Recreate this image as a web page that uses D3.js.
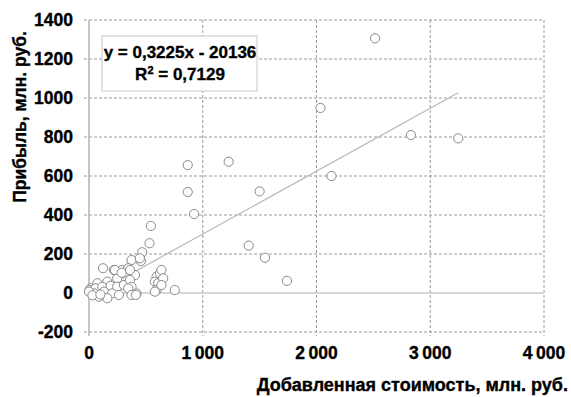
<!DOCTYPE html>
<html><head><meta charset="utf-8">
<script src="https://cdn.jsdelivr.net/npm/d3@7"></script>
<style>
body{margin:0;background:#fff;}
text{font-family:"Liberation Sans Narrow","Arial Narrow","Liberation Sans",sans-serif;font-weight:bold;fill:#000;stroke:#000;stroke-width:0.35;}
</style></head>
<body><svg id="c" width="571" height="397"></svg>
<script>
// Data: added value (mln rub) vs profit (mln rub)
const addedValue = [2515,2035,2830,3246,2132,1228,1500,1404,1547,1740,868,868,924,544,532,468,456,
  123,219,292,248,161,73,15,5,59,117,190,248,307,132,204,263,44,161,88,0,
  374,447,345,404,360,374,345,418,374,594,623,579,608,594,579,637,652,637,754,412,228,287,360,30,100];
const profit = [1306,949,810,793,600,673,521,243,181,62,656,518,405,344,255,209,164,
  127,118,118,75,58,50,24,15,24,32,37,32,41,7,-2,-10,-2,-27,-19,7,
  169,178,127,92,67,32,24,-2,-10,84,101,58,50,15,7,118,75,41,15,-10,118,104,118,-12,-8];
const xTicks = [0,1000,2000,3000,4000];
const yTicks = [-200,0,200,400,600,800,1000,1200,1400];
const slope = 0.3225, intercept = -20.136;
const eqText = "y = 0,3225x - 20136";
const r2Label = "R", r2Rest = " = 0,7129";
const xTitle = "Добавленная стоимость, млн. руб.";
const yTitle = "Прибыль, млн. руб.";

const svg = d3.select("#c");
const x = d3.scaleLinear().domain([0,4000]).range([89,544]);
const y = d3.scaleLinear().domain([-200,1400]).range([332,20]);

// gridlines
svg.append("g").selectAll("line").data(yTicks.filter(d=>d!==0)).join("line")
  .attr("x1",x(0)-5).attr("x2",x(4000)).attr("y1",d=>y(d)).attr("y2",d=>y(d))
  .attr("stroke","#9a9a9a").attr("stroke-width",1).attr("stroke-dasharray","3,2");
svg.append("g").selectAll("line").data(xTicks.filter(d=>d!==0)).join("line")
  .attr("x1",d=>x(d)).attr("x2",d=>x(d)).attr("y1",y(1400)).attr("y2",y(-200)+4)
  .attr("stroke","#9a9a9a").attr("stroke-width",1).attr("stroke-dasharray","3,2");
// zero lines
svg.append("line").attr("x1",x(0)-5).attr("x2",x(4000)).attr("y1",y(0)).attr("y2",y(0))
  .attr("stroke","#c8c8c8").attr("stroke-width",1.5);
svg.append("line").attr("x1",x(0)).attr("x2",x(0)).attr("y1",y(1400)).attr("y2",y(-200)+4)
  .attr("stroke","#a0a0a0").attr("stroke-width",1.2);

// trendline
const xMin = d3.min(addedValue), xMax = d3.max(addedValue);
svg.append("line").attr("x1",x(xMin)).attr("y1",y(slope*xMin+intercept))
  .attr("x2",x(xMax)).attr("y2",y(slope*xMax+intercept))
  .attr("stroke","#b8b8b8").attr("stroke-width",1.2);

// points
svg.append("g").selectAll("circle").data(addedValue.map((v,i)=>[v,profit[i]])).join("circle")
  .attr("cx",d=>x(d[0])).attr("cy",d=>y(d[1])).attr("r",4.6)
  .attr("fill","#fff").attr("stroke","#8a8a8a").attr("stroke-width",1);

// axis tick labels
svg.append("g").selectAll("text").data(yTicks).join("text")
  .attr("x",73).attr("y",d=>y(d)+6).attr("text-anchor","end").attr("font-size",17.5).text(d=>d);
const fmt = d => d===0 ? "0" : d3.format(",")(d).replace(",", "\u2009");
svg.append("g").selectAll("text").data(xTicks).join("text")
  .attr("x",d=>x(d)).attr("y",359).attr("text-anchor","middle").attr("font-size",17.5).text(fmt);

// titles
svg.append("text").attr("x",568).attr("y",391).attr("text-anchor","end").attr("font-size",18).text(xTitle);
svg.append("text").attr("transform","translate(26,117) rotate(-90)").attr("text-anchor","middle")
  .attr("font-size",17.5).text(yTitle);

// equation box
svg.append("rect").attr("x",102).attr("y",36).attr("width",155).attr("height",55)
  .attr("fill","#fff").attr("stroke","#c8c8c8").attr("stroke-width",1);
svg.append("text").attr("x",180).attr("y",58).attr("text-anchor","middle").attr("font-size",17).text(eqText);
const t2 = svg.append("text").attr("x",180).attr("y",80).attr("text-anchor","middle").attr("font-size",17);
t2.append("tspan").text(r2Label);
t2.append("tspan").attr("dy",-6).attr("font-size",11).text("2");
t2.append("tspan").attr("dy",6).text(r2Rest);
</script></body></html>
